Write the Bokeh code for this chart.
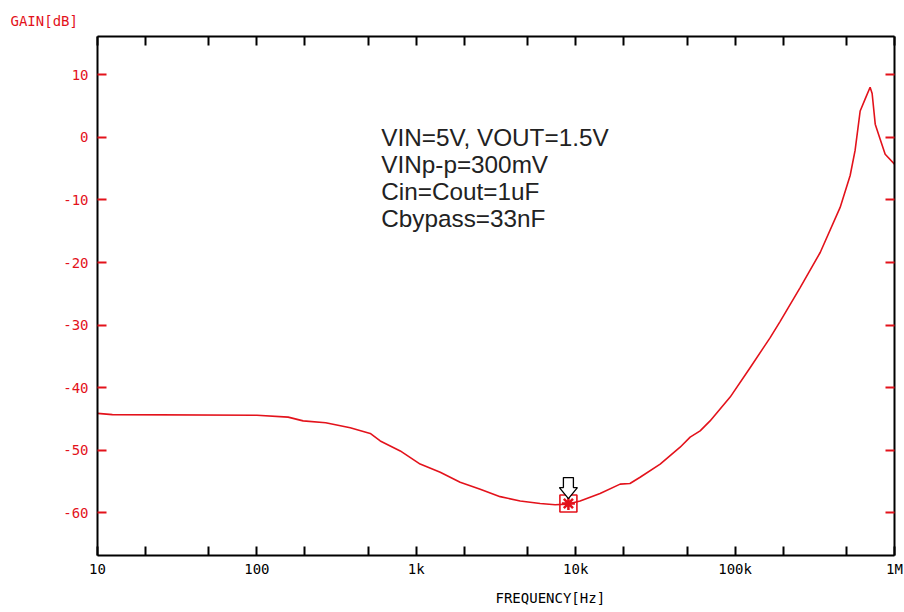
from bokeh.plotting import figure
from bokeh.models import (Range1d, FixedTicker, CustomJSTickFormatter, LogAxis,
                          LinearAxis, Label, Title)
from bokeh.core.properties import value
from bokeh.embed import file_html
from bokeh.resources import INLINE

# ---- data ----
freq_hz = [10, 12.4, 100, 157, 195, 270, 385, 514, 594, 793, 1057, 1413, 1884,
           2518, 3359, 4486, 5984, 7430, 8840, 10660, 14220, 19000, 21900, 25350,
           33880, 45190, 52240, 60360, 69660, 93100, 124200, 166000, 191800,
           255900, 341900, 456000, 527000, 566000, 609000, 654000, 703000,
           724000, 757000, 813000, 874000, 1000000]
gain_db = [-44.1, -44.3, -44.4, -44.7, -45.3, -45.6, -46.4, -47.3, -48.5, -50.1,
           -52.2, -53.5, -55.1, -56.2, -57.4, -58.1, -58.5, -58.7, -58.6, -58.1,
           -56.9, -55.4, -55.3, -54.3, -52.2, -49.5, -47.9, -46.9, -45.3, -41.5,
           -36.8, -32.0, -29.4, -24.0, -18.4, -11.2, -6.1, -2.1, 4.2, 6.1, 8.0,
           7.0, 2.1, -0.3, -2.7, -4.3]

marker_freq = [9000]
marker_gain = [-58.5]

x_tick_values = [10, 20, 50, 100, 200, 500, 1000, 2000, 5000, 10000, 20000,
                 50000, 100000, 200000, 500000, 1000000]
x_tick_labels = ["10", "", "", "100", "", "", "1k", "", "", "10k", "", "",
                 "100k", "", "", "1M"]
y_tick_values = [10, 0, -10, -20, -30, -40, -50, -60]
y_tick_labels = ["10", "0", "-10", "-20", "-30", "-40", "-50", "-60"]

note_lines = ["VIN=5V, VOUT=1.5V", "VINp-p=300mV", "Cin=Cout=1uF",
              "Cbypass=33nF"]

RED = "#e3121b"
MONO = "DejaVu Sans Mono"

X0, X1 = 10, 1e6
Y0, Y1 = -66.8, 16.1
FW, FH = 797, 519

p = figure(x_axis_type="log", x_range=Range1d(X0, X1),
           y_range=Range1d(Y0, Y1),
           frame_width=FW, frame_height=FH,
           min_border_left=97, min_border_right=10,
           min_border_top=36, min_border_bottom=57,
           output_backend="svg", toolbar_location=None)
p.outline_line_color = None
p.grid.visible = False
p.background_fill_color = "white"
p.border_fill_color = "white"

x_fmt = CustomJSTickFormatter(args=dict(vals=x_tick_values, labs=x_tick_labels), code="""
const i = vals.findIndex(v => Math.abs(v - tick) < 1e-6 * v);
return i >= 0 ? labs[i] : '';
""")
y_fmt = CustomJSTickFormatter(args=dict(vals=y_tick_values, labs=y_tick_labels), code="""
const i = vals.findIndex(v => Math.abs(v - tick) < 1e-6);
return i >= 0 ? labs[i] : '';
""")
blank_fmt = CustomJSTickFormatter(code="return '';")

def style(ax, tick_color, label_color="black"):
    ax.axis_line_color = "black"
    ax.axis_line_width = 2
    ax.major_tick_in = 9
    ax.major_tick_out = 0
    ax.minor_tick_in = 0
    ax.minor_tick_out = 0
    ax.major_tick_line_color = tick_color
    ax.major_tick_line_width = 2
    ax.major_label_text_font = MONO
    ax.major_label_text_font_size = "14px"
    ax.major_label_text_color = label_color
    ax.axis_label = None

xa = p.xaxis[0]
xa.ticker = FixedTicker(ticks=x_tick_values)
xa.formatter = x_fmt
style(xa, "black", "black")
xa.major_label_standoff = 5

ya = p.yaxis[0]
ya.ticker = FixedTicker(ticks=y_tick_values)
ya.formatter = y_fmt
style(ya, RED, RED)
ya.major_label_standoff = 9

top = LogAxis(ticker=FixedTicker(ticks=x_tick_values), formatter=blank_fmt)
style(top, "black")
top.major_label_standoff = 0
p.add_layout(top, "above")

right = LinearAxis(ticker=FixedTicker(ticks=y_tick_values), formatter=blank_fmt)
style(right, RED)
right.major_label_standoff = 0
p.add_layout(right, "right")

# axis titles (as side titles so they are not clipped)
p.add_layout(Title(text="GAIN[dB]", text_color=RED, text_font=MONO,
                   text_font_size="14px", text_font_style="normal",
                   align="left", offset=-87, standoff=15), "above")
p.add_layout(Title(text="FREQUENCY[Hz]", text_color="black", text_font=MONO,
                   text_font_size="14px", text_font_style="normal",
                   align="left", offset=398, standoff=16), "below")

# curve
p.line(freq_hz, gain_db, line_color=RED, line_width=1.6)

# cursor marker
p.scatter(marker_freq, marker_gain, marker="square", size=17,
          fill_color=None, line_color=RED, line_width=1.6)
p.scatter(marker_freq, marker_gain, marker="asterisk", size=13,
          line_color=RED, line_width=2.5)

# hollow block arrow above the marker (shape given in pixel offsets)
px_per_decade = FW / 5.0
px_per_db = FH / (Y1 - Y0)
arrow_dx = [0, -9, -5, -5, 5, 5, 9]
arrow_dy = [-5, -16, -16, -26, -26, -16, -16]
ax_pts = [marker_freq[0] * 10 ** (dx / px_per_decade) for dx in arrow_dx]
ay_pts = [marker_gain[0] - dy / px_per_db for dy in arrow_dy]
p.patch(ax_pts, ay_pts, fill_color="white", line_color="black", line_width=1.3)

# note text
note_x = 603
note_top = 0.0
note_step = 4.3
for i, line in enumerate(note_lines):
    p.add_layout(Label(x=note_x, y=note_top - i * note_step, text=line,
                       text_color="#222222", text_font="Liberation Sans",
                       text_font_size="24.3px", text_align="left",
                       text_baseline="alphabetic"))

open("out.html", "w").write(file_html(p, INLINE))
